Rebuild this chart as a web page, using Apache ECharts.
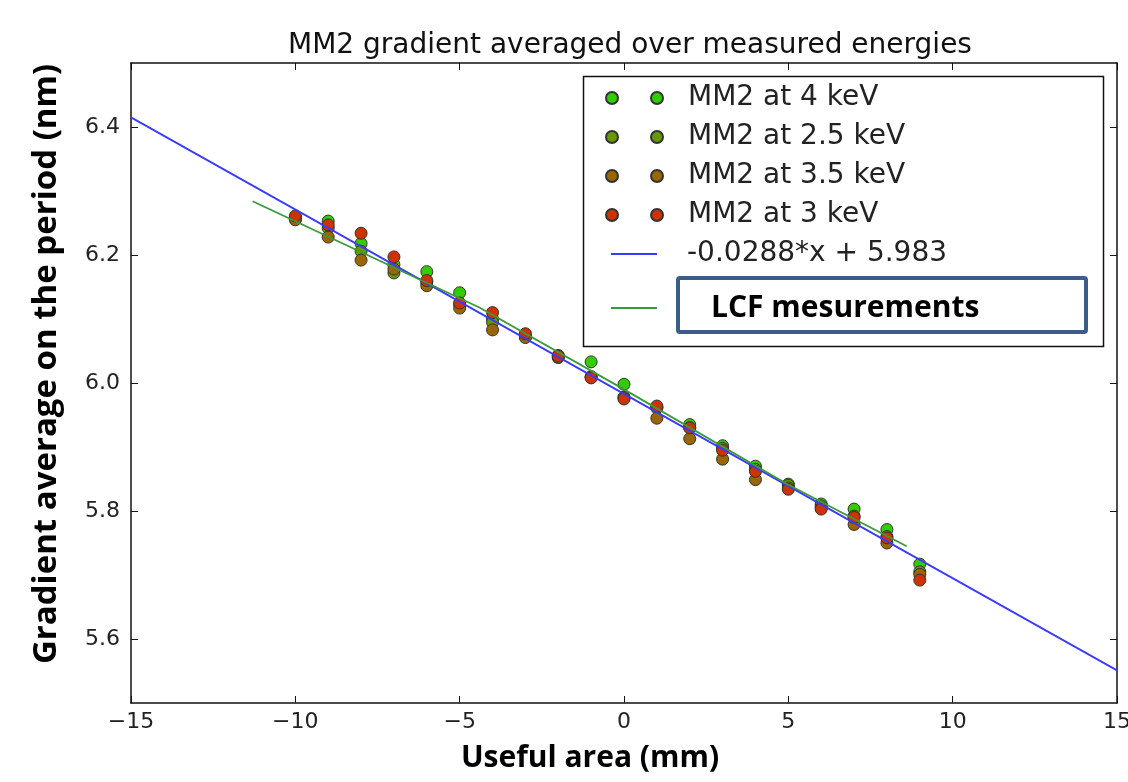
<!DOCTYPE html>
<html>
<head>
<meta charset="utf-8">
<script src="https://cdn.jsdelivr.net/npm/echarts@6/dist/echarts.min.js"></script>
<style>
  html, body { margin: 0; padding: 0; background: #fff; }
</style>
</head>
<body>
<div id="chart" style="width: 1128px; height: 782px"></div>
<script>
// useful area positions (mm)
const xPos = [-10, -9, -8, -7, -6, -5, -4, -3, -2, -1, 0, 1, 2, 3, 4, 5, 6, 7, 8, 9];

// gradient average per energy (nm)
const mm2At4 = [6.258, 6.253, 6.218, 6.185, 6.174, 6.141, 6.100, 6.075, 6.043, 6.033,
  5.998, 5.962, 5.935, 5.902, 5.870, 5.842, 5.811, 5.803, 5.771, 5.717];
const mm2At25 = [6.256, 6.242, 6.206, 6.172, 6.157, 6.123, 6.095, 6.072, 6.040, 6.010,
  5.978, 5.961, 5.930, 5.898, 5.865, 5.840, 5.808, 5.792, 5.760, 5.705];
const mm2At35 = [6.255, 6.228, 6.192, 6.178, 6.152, 6.117, 6.083, 6.071, 6.040, 6.009,
  5.977, 5.945, 5.913, 5.881, 5.849, 5.836, 5.805, 5.779, 5.750, 5.701];
const mm2At3 = [6.261, 6.247, 6.234, 6.197, 6.160, 6.125, 6.110, 6.077, 6.042, 6.008,
  5.975, 5.964, 5.930, 5.895, 5.862, 5.834, 5.803, 5.790, 5.758, 5.692];

// linear fit, end points
const fitX = [-15, 15];
const fitY = [6.415, 5.551];

// LCF measurement curve
const lcfX = [-11.3, -4.4, 0, 5, 8.6];
const lcfY = [6.284, 6.118, 5.99, 5.841, 5.745];

const xTicks = [-15, -10, -5, 0, 5, 10, 15];
const yTicks = [5.6, 5.8, 6.0, 6.2, 6.4];

const pairs = (xs, ys) => xs.map((x, i) => [x, ys[i]]);

const twoDots = "path://M0,6a6,6 0 1,0 12,0a6,6 0 1,0 -12,0zM45,6a6,6 0 1,0 12,0a6,6 0 1,0 -12,0z";
const tickFont = "DejaVu Sans";
const boldFont = "Open Sans";

var myChart = echarts.init(document.getElementById("chart"));

function scatter(name, color, values) {
  return {
    name: name,
    type: "scatter",
    symbol: "circle",
    symbolSize: 12,
    itemStyle: { color: color, borderColor: "#333", borderWidth: 1, opacity: 1 },
    data: pairs(xPos, values),
  };
}

function minusFmt(v) {
  return v < 0 ? "\u2212" + Math.abs(v) : String(v);
}

var option = {
  backgroundColor: "#fff",
  animation: false,
  title: {
    text: "MM2 gradient averaged over measured energies",
    left: 625,
    textAlign: "center",
    top: 27,
    textStyle: { fontFamily: tickFont, fontSize: 28, fontWeight: "normal", color: "#111" },
  },
  grid: { left: 131, right: 11, top: 63, bottom: 79, show: false, outerBoundsMode: "none" },
  legend: [
    {
      left: 600,
      top: 78,
      orient: "vertical",
      itemWidth: 57,
      itemHeight: 12,
      itemGap: 9,
      data: [
        { name: "MM2 at 4 keV", icon: twoDots },
        { name: "MM2 at 2.5 keV", icon: twoDots },
        { name: "MM2 at 3.5 keV", icon: twoDots },
        { name: "MM2 at 3 keV", icon: twoDots },
      ],
      textStyle: { fontFamily: tickFont, fontSize: 28, lineHeight: 30, color: "#222", padding: [0, 0, 0, 20] },
    },
    {
      left: 606,
      top: 234,
      itemWidth: 46,
      itemHeight: 2,
      data: [{ name: "-0.0288*x + 5.983", icon: "rect" }],
      textStyle: { fontFamily: tickFont, fontSize: 28, lineHeight: 30, color: "#222", padding: [0, 0, 0, 25] },
    },
    {
      left: 606,
      top: 288,
      itemWidth: 46,
      itemHeight: 2,
      data: [{ name: "LCF mesurements", icon: "rect" }],
      textStyle: { fontFamily: boldFont, fontSize: 30, fontWeight: "bold", lineHeight: 30, color: "#000", padding: [0, 0, 0, 49] },
    },
  ],
  graphic: [
    {
      type: "rect",
      shape: { x: 583.5, y: 76.5, width: 520, height: 270 },
      style: { fill: "none", stroke: "#111", lineWidth: 1.5 },
      z: 5,
    },
    {
      type: "rect",
      shape: { x: 678, y: 278, width: 408, height: 54, r: 2 },
      style: { fill: "none", stroke: "#3b5d86", lineWidth: 4 },
      z: 6,
    },
  ],
  xAxis: [
    {
      type: "value",
      min: -15,
      max: 15,
      interval: 5,
      position: "bottom",
      name: "Useful area (mm)",
      nameLocation: "middle",
      nameGap: 40,
      nameTextStyle: { fontFamily: boldFont, fontWeight: "bold", fontSize: 30, color: "#000", padding: [0, 68, 0, 0] },
      axisLine: { onZero: false, lineStyle: { color: "#111", width: 1.5 } },
      axisTick: { inside: true, length: 7, lineStyle: { color: "#111" } },
      axisLabel: { fontFamily: tickFont, fontSize: 22, color: "#222", margin: 8, formatter: minusFmt },
      splitLine: { show: false },
    },
    {
      type: "value",
      min: -15,
      max: 15,
      interval: 5,
      position: "top",
      axisLine: { onZero: false, lineStyle: { color: "#111", width: 1.5 } },
      axisTick: { inside: true, length: 7, lineStyle: { color: "#111" } },
      axisLabel: { show: false },
      splitLine: { show: false },
    },
  ],
  yAxis: [
    {
      type: "value",
      min: 5.5,
      max: 6.5,
      position: "left",
      name: "Gradient average on the period (nm)",
      nameLocation: "middle",
      nameGap: 68,
      nameTextStyle: { fontFamily: boldFont, fontWeight: "bold", fontSize: 33, color: "#000", padding: [0, 0, 0, 38] },
      axisLine: { show: true, onZero: false, lineStyle: { color: "#111", width: 1.5 } },
      axisTick: { show: true, inside: true, length: 7, customValues: yTicks, lineStyle: { color: "#111" } },
      axisLabel: {
        fontFamily: tickFont,
        fontSize: 22,
        color: "#222",
        margin: 11,
        customValues: yTicks,
        formatter: (v) => v.toFixed(1),
      },
      splitLine: { show: false },
    },
    {
      type: "value",
      min: 5.5,
      max: 6.5,
      position: "right",
      axisLine: { show: true, onZero: false, lineStyle: { color: "#111", width: 1.5 } },
      axisTick: { show: true, inside: true, length: 7, customValues: yTicks, lineStyle: { color: "#111" } },
      axisLabel: { show: false, customValues: yTicks },
      splitLine: { show: false },
    },
  ],
  series: [
    scatter("MM2 at 4 keV", "#33cc00", mm2At4),
    scatter("MM2 at 2.5 keV", "#669900", mm2At25),
    scatter("MM2 at 3.5 keV", "#996600", mm2At35),
    scatter("MM2 at 3 keV", "#cc3300", mm2At3),
    {
      name: "-0.0288*x + 5.983",
      type: "line",
      symbol: "none",
      lineStyle: { color: "#3a3aff", width: 1.8 },
      itemStyle: { color: "#3a3aff" },
      data: pairs(fitX, fitY),
    },
    {
      name: "LCF mesurements",
      type: "line",
      symbol: "none",
      lineStyle: { color: "#3a9a3a", width: 1.8 },
      itemStyle: { color: "#3a9a3a" },
      data: pairs(lcfX, lcfY),
    },
  ],
};

myChart.setOption(option);
</script>
</body>
</html>
